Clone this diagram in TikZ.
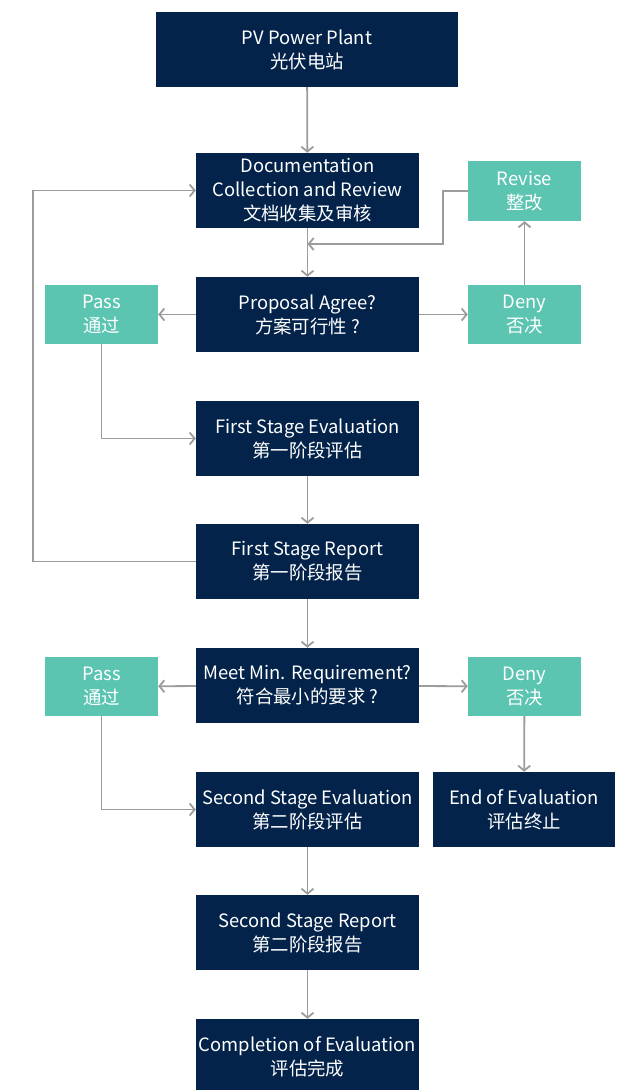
\documentclass[tikz,border=0pt]{standalone}
\usepackage{fontspec}
\setmainfont{Noto Sans CJK SC}
\usetikzlibrary{arrows.meta}
\definecolor{navy}{HTML}{03234A}
\definecolor{mint}{HTML}{5BC5B2}
\definecolor{linkgray}{HTML}{9C9C9C}
\begin{document}
\begin{tikzpicture}[x=1pt, y=-1pt,
    stage/.style={fill=navy, text=white, minimum width=223pt, minimum height=75pt,
      inner sep=0pt, align=center, font=\fontsize{18.4}{24}\selectfont},
    choice/.style={fill=mint, text=white, minimum width=113pt, minimum height=59pt,
      inner sep=0pt, align=center, font=\fontsize{18.4}{24}\selectfont},
    link/.style={draw=linkgray, line width=1.8pt, -{Straight Barb[length=5pt, width=12pt]}}]
    \useasboundingbox (0, 0) rectangle (640, 1090);

    % main column
    \node[stage, minimum width=302pt] (pv) at (307, 49.5) {PV Power Plant\\光伏电站};
    \node[stage] (doc) at (307.5, 190.5) {Documentation\\Collection and Review\\文档收集及审核};
    \node[stage] (prop) at (307.5, 314.5) {Proposal Agree?\\方案可行性 ?};
    \node[stage] (fse) at (307.5, 438.5) {First Stage Evaluation\\第一阶段评估};
    \node[stage] (fsr) at (307.5, 561.5) {First Stage Report\\第一阶段报告};
    \node[stage] (meet) at (307.5, 685.5) {Meet Min. Requirement?\\符合最小的要求 ?};
    \node[stage] (sse) at (307.5, 809.5) {Second Stage Evaluation\\第二阶段评估};
    \node[stage] (ssr) at (307.5, 932.5) {Second Stage Report\\第二阶段报告};
    \node[stage] (done) at (307.5, 1056.5) {Completion of Evaluation\\评估完成};

    % side boxes
    \node[choice] (pass1) at (101.5, 314.5) {Pass\\通过};
    \node[choice] (deny1) at (524.5, 314.5) {Deny\\否决};
    \node[choice, minimum height=60pt] (revise) at (524.5, 191) {Revise\\整改};
    \node[choice] (pass2) at (101.5, 686.5) {Pass\\通过};
    \node[choice] (deny2) at (524.5, 686.5) {Deny\\否决};
    \node[stage, minimum width=182pt] (stop) at (524, 809.5) {End of Evaluation\\评估终止};

    \coordinate (merge) at (307.5, 244);

    \draw[link] (pv) -- (doc);
    \draw[link] (doc) -- (prop);
    \draw[link] (prop) -- (pass1);
    \draw[link] (prop) -- (deny1);
    \draw[link] (deny1) -- (revise);
    \draw[link] (revise.west) -- ++(-25, 0) |- (merge);
    \draw[link] (pass1) |- (fse);
    \draw[link] (fse) -- (fsr);
    \draw[link] (fsr.west) -- ++(-163, 0) |- (doc.west);
    \draw[link] (fsr) -- (meet);
    \draw[link] (meet) -- (pass2);
    \draw[link] (meet) -- (deny2);
    \draw[link] (deny2) -- (stop);
    \draw[link] (pass2) |- (sse);
    \draw[link] (sse) -- (ssr);
    \draw[link] (ssr) -- (done);
  \end{tikzpicture}
\end{document}
